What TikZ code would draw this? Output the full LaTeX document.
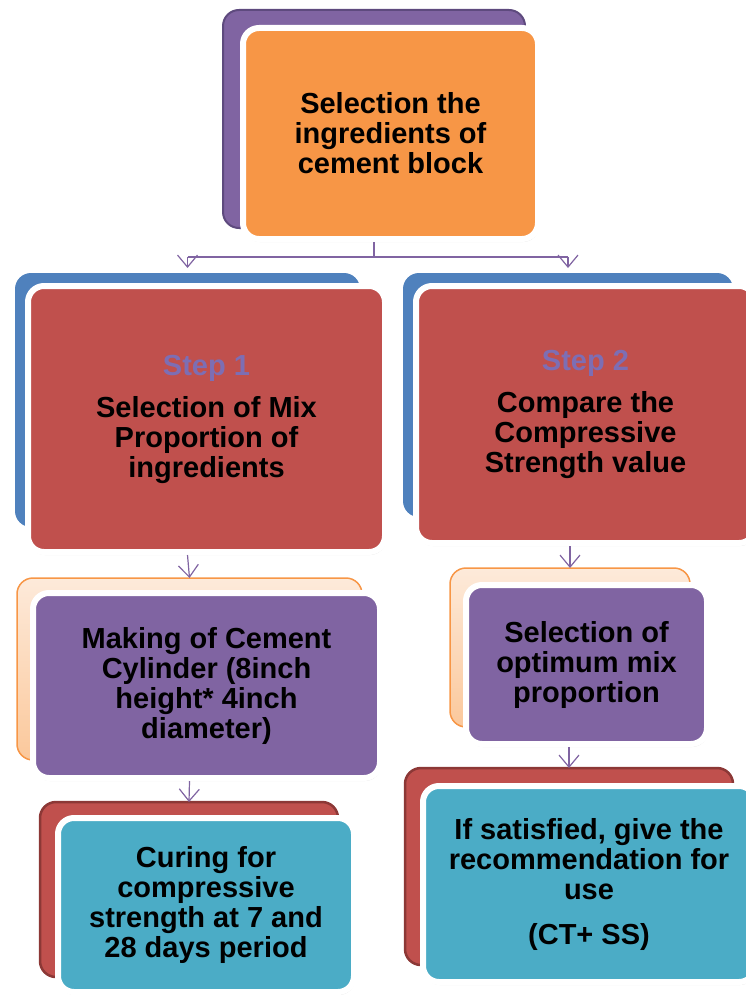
\documentclass[tikz,border=0pt]{standalone}
\usepackage{fontspec}
\setmainfont{Liberation Sans}
\usetikzlibrary{positioning,arrows.meta,shadows,calc}
\definecolor{floworange}{RGB}{247,150,70}
\definecolor{flowpurple}{RGB}{128,100,162}
\definecolor{flowpurpledark}{RGB}{94,74,126}
\definecolor{flowblue}{RGB}{79,129,189}
\definecolor{flowred}{RGB}{192,80,77}
\definecolor{flowreddark}{RGB}{140,56,54}
\definecolor{flowteal}{RGB}{75,172,198}
\definecolor{flowpeach}{RGB}{253,234,218}
\definecolor{flowpeachdark}{RGB}{251,200,155}
\definecolor{flowstep}{RGB}{125,110,180}

\tikzset{
  backbox/.style={rounded corners=16pt,inner sep=0pt,outer sep=0pt},
  frontbox/.style={rounded corners=16pt,draw=white,line width=6pt,
    align=center,inner sep=0pt,text=black,
    font=\fontsize{29}{30}\selectfont\bfseries,
    drop shadow={shadow xshift=1pt,shadow yshift=-3pt,opacity=0.22}},
  link/.style={draw=flowpurple,line width=1.2pt},
  flowarrow/.style={link,-{Straight Barb[length=12pt,width=20pt]}}
}

\begin{document}
\begin{tikzpicture}[x=1pt,y=-1pt]
    \useasboundingbox (0,0) rectangle (746,995);
    % Ingredients (top)
    \node[backbox,fill=flowpurple,draw=flowpurpledark,line width=2pt,
          minimum width=302pt,minimum height=218pt] (selback) at (374,119) {};
    \node[frontbox,fill=floworange,minimum width=295pt,minimum height=211pt]
          (sel) at (390.5,133.5) {Selection the\\ingredients of\\cement block};
    % Step 1
    \node[backbox,fill=flowblue,minimum width=345pt,minimum height=254pt]
          (step1back) at (187.5,400) {};
    \node[frontbox,fill=flowred,minimum width=357pt,minimum height=266pt]
          (step1) at (206.5,419)
          {{\color{flowstep}Step 1}\\[12pt]Selection of Mix\\Proportion of\\ingredients};
    % Step 2
    \node[backbox,fill=flowblue,minimum width=330pt,minimum height=244pt]
          (step2back) at (568,395) {};
    \node[frontbox,fill=flowred,minimum width=339pt,minimum height=257pt]
          (step2) at (585.5,414.5)
          {{\color{flowstep}Step 2}\\[12pt]Compare the\\Compressive\\Strength value};
    % Cylinder
    \node[backbox,top color=flowpeach,bottom color=flowpeachdark,draw=floworange,
          line width=1.5pt,minimum width=345pt,minimum height=182pt]
          (cylback) at (189.5,669) {};
    \node[frontbox,fill=flowpurple,minimum width=347pt,minimum height=185pt]
          (cyl) at (206.5,685.5)
          {Making of Cement\\Cylinder (8inch\\height* 4inch\\diameter)};
    % Optimum mix
    \node[backbox,top color=flowpeach,bottom color=flowpeachdark,draw=floworange,
          line width=1.5pt,minimum width=240pt,minimum height=159pt]
          (optback) at (570,647.5) {};
    \node[frontbox,fill=flowpurple,minimum width=241pt,minimum height=159pt]
          (opt) at (586.5,664.5) {Selection of\\optimum mix\\proportion};
    % Curing
    \node[backbox,fill=flowred,draw=flowreddark,line width=2.5pt,
          minimum width=298pt,minimum height=175pt] (curback) at (189,889.5) {};
    \node[frontbox,fill=flowteal,minimum width=296pt,minimum height=174pt]
          (cur) at (206,905)
          {Curing for\\compressive\\strength at 7 and\\28 days period};
    % Recommendation
    \node[backbox,fill=flowred,draw=flowreddark,line width=2.5pt,
          minimum width=328pt,minimum height=197pt] (recback) at (569,866.5) {};
    \node[frontbox,fill=flowteal,minimum width=332pt,minimum height=196pt]
          (rec) at (589,884)
          {If satisfied, give the\\recommendation for\\use\\[15pt](CT+ SS)};
    % Connectors
    \coordinate (fork) at (374,257);
    \draw[link] (selback |- sel.south) -- (fork);
    \draw[link] (fork -| step1back) -- (fork -| step2back);
    \draw[flowarrow,shorten >=5pt] (fork -| step1back) -- (step1back.north);
    \draw[flowarrow,shorten >=5pt] (fork -| step2back) -- (step2back.north);
    \draw[flowarrow] (step1back |- step1.south) -- (cylback.north);
    \draw[flowarrow] (cylback |- cyl.south) -- (curback.north);
    \draw[flowarrow] (optback |- step2.south) -- (optback.north);
    \draw[flowarrow] (recback |- opt.south) -- (recback.north);
\end{tikzpicture}
\end{document}
